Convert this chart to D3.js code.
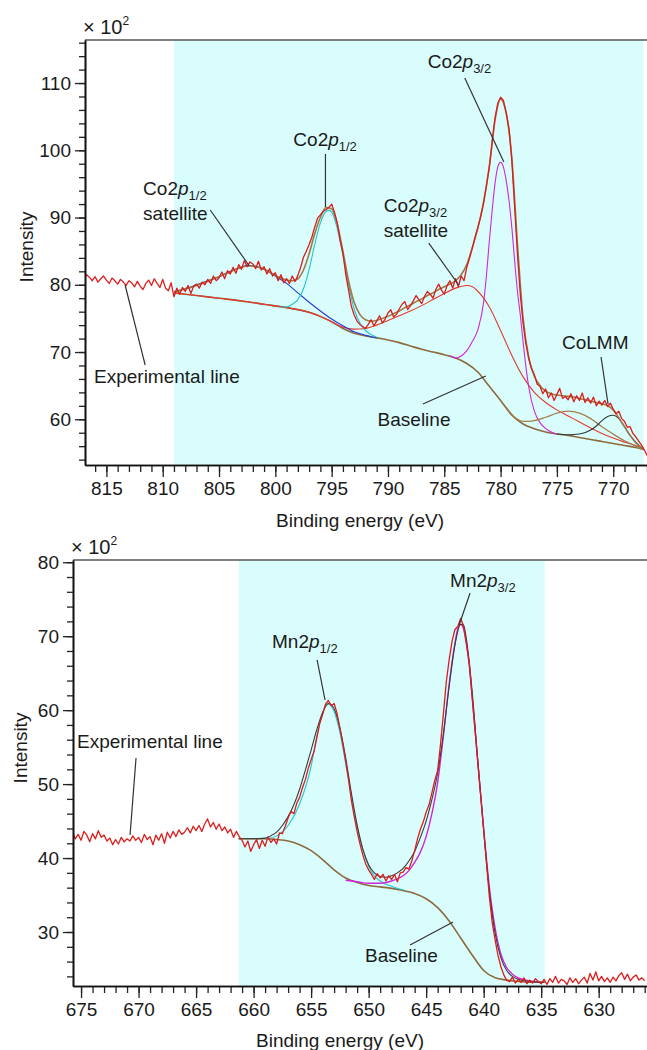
<!DOCTYPE html>
<html>
<head>
<meta charset="utf-8">
<script src="https://cdnjs.cloudflare.com/ajax/libs/d3/7.8.5/d3.min.js"></script>
<style>
body { margin: 0; background: #fff; }
svg { display: block; font-family: "Liberation Sans", Arial, sans-serif; }
</style>
</head>
<body>
<div id="chart"></div>
<script>
//////////// Co 2p panel data ////////////

// experimental spectrum, 817 -> 767 eV in 0.25 eV steps
var coExpStart = 817, coExpStep = 0.25;
var coExp = [
    80.9, 81.5, 81.1, 80.6,  81.2, 80.4, 80.9, 81.3,  80.7, 80.2, 81.0, 80.6,
    80.1, 80.8, 80.4, 79.9,  80.6, 80.3, 79.7, 80.5,  79.8, 79.3, 80.2, 80.7,
    79.9, 80.9, 80.2, 79.6,  80.8, 79.5, 79.1, 80.3,  78.2, 79.5, 78.6, 79.6,
    79.0, 79.9, 78.7, 79.8,  80.1, 79.5, 80.4, 80.0,  80.8, 80.2, 81.3, 80.6,
    81.0, 81.9, 80.9, 82.1,  81.6, 82.6, 81.7, 83.0,  82.3, 83.6, 82.7, 83.4,
    83.1, 82.4, 83.5, 82.2,  82.7, 81.6, 82.4, 81.3,  81.8, 80.6, 81.5, 80.3,
    80.9, 80.2, 81.3, 80.5,  81.4, 82.6, 84.1, 85.0,  86.0, 87.1, 88.6, 89.9,
    90.4, 90.9, 91.2, 91.5,  92.0, 90.8, 89.2, 86.6,  84.7, 81.6, 79.2, 76.8,
    75.5, 74.6, 74.1, 73.8,  73.5, 74.1, 74.8, 73.9,  74.6, 75.4, 74.3, 74.9,
    75.8, 76.3, 75.2, 75.6,  76.4, 77.1, 77.5, 76.3,  76.9, 77.6, 78.4, 77.8,
    77.2, 78.3, 79.0, 78.6,  78.0, 79.3, 80.1, 79.2,  78.6, 79.9, 80.6, 79.5,
    80.9, 79.7, 81.3, 80.6,  82.6, 84.0, 85.5, 87.2,  88.6, 90.2, 92.2, 94.8,
    97.5, 101.2, 104.8, 107.0,  107.9, 107.4, 105.6, 103.2,  98.5, 91.5, 84.5, 78.6,
    74.3, 71.2, 69.0, 67.5,  66.6, 65.2, 64.9, 63.8,  64.5, 63.2, 63.9, 62.8,
    63.7, 64.6, 63.1, 63.4,  62.9, 63.8, 62.6, 63.5,  62.8, 63.9, 62.5, 63.2,
    62.4, 63.3, 62.0, 62.7,  62.1, 62.8, 61.9, 62.4,  61.5, 60.8, 61.2, 60.1,
    59.7, 58.8, 58.9, 57.9,  57.4, 56.8, 56.2, 55.5,  54.6
];

var coEnvelope = [
    [809, 78.9], [808.5, 79.1], [808, 79.4], [807.5, 79.6], [807, 79.9], [806.5, 80.2],
    [806, 80.5], [805.5, 80.9], [805, 81.2], [804.5, 81.6], [804, 81.9], [803.5, 82.3],
    [803, 82.6], [802.5, 82.8], [802, 82.8], [801.5, 82.6], [801, 82.3], [800.5, 81.9],
    [800, 81.4], [799.5, 81.0], [799, 80.7], [798.5, 80.6], [798, 80.9], [797.5, 82.2],
    [797, 84.6], [796.5, 87.6], [796, 90.0], [795.5, 91.5], [795, 91.3], [794.5, 89.0],
    [794, 85.0], [793.5, 80.6], [793, 77.4], [792.5, 75.6], [792, 74.8], [791.5, 74.6],
    [791, 74.7], [790.5, 75.0], [790, 75.3], [789.5, 75.7], [789, 76.1], [788.5, 76.6],
    [788, 77.0], [787.5, 77.5], [787, 77.9], [786.5, 78.4], [786, 78.8], [785.5, 79.3],
    [785, 79.7], [784.5, 80.1], [784, 80.6], [783.5, 81.5], [783, 83.0], [782.5, 85.6],
    [782, 88.6], [781.5, 92.4], [781, 97.6], [780.5, 104.4], [780, 107.6], [779.5, 105.5],
    [779, 98.8], [778.5, 86.0], [778, 75.0], [777.5, 69.2], [777, 66.4], [776.5, 65.0],
    [776, 64.2], [775.5, 63.8], [775, 63.6], [774.5, 63.5], [774, 63.4], [773.5, 63.3],
    [773, 63.1], [772.5, 62.9], [772, 62.7], [771.5, 62.5], [771, 62.3], [770.5, 62.0],
    [770, 61.4], [769.5, 60.2], [769, 58.9], [768.5, 57.6], [768, 56.5], [767.3, 55.5]
];

var coBaseline = [
    [809, 78.8], [807, 78.4], [805, 78.0], [803, 77.6], [801, 77.1], [799, 76.6],
    [797, 75.9], [796, 75.3], [795, 74.5], [794, 73.5], [793, 72.8], [792, 72.4],
    [791, 72.1], [790, 71.8], [789, 71.4], [788, 70.9], [787, 70.4], [786, 70.0],
    [785, 69.6], [784, 69.1], [783, 68.3], [782, 67.0], [781, 64.9], [780, 62.8],
    [779, 60.6], [778, 59.3], [777, 58.6], [776, 58.1], [775, 57.8], [774, 57.6],
    [773, 57.3], [772, 57.0], [771, 56.7], [770, 56.4], [769, 56.1], [768, 55.8],
    [767.3, 55.5]
];

// Co2p1/2 satellite (blue)
var coSat12 = [
    [809, 79.0], [808, 79.4], [807, 80.0], [806, 80.6], [805, 81.2], [804, 82.0],
    [803, 82.6], [802.5, 82.9], [802, 82.8], [801, 82.3], [800, 81.3], [799, 80.2],
    [798, 78.8], [797, 77.4], [796, 76.1], [795, 74.9], [794, 73.9], [793, 73.0],
    [792, 72.5], [791, 72.1]
];

// Co2p1/2 (cyan)
var coP12 = [
    [799.5, 76.7], [799, 76.7], [798.5, 77.1], [798, 77.8], [797.5, 79.4], [797, 82.3],
    [796.5, 86.0], [796, 89.2], [795.5, 90.9], [795.25, 91.1], [795, 90.8], [794.5, 88.4],
    [794, 84.4], [793.5, 80.0], [793, 76.4], [792.5, 74.3], [792, 73.2], [791.5, 72.6],
    [791, 72.2]
];

// Co2p3/2 (magenta)
var coP32 = [
    [784.5, 69.5], [784, 69.1], [783.5, 69.4], [783, 70.2], [782.5, 71.6], [782, 73.4],
    [781.5, 77.5], [781.25, 81.5], [781, 86.5], [780.75, 91.0], [780.5, 95.0], [780.25, 97.5],
    [780, 98.2], [779.75, 97.5], [779.5, 95.5], [779.25, 92.5], [779, 88.5], [778.75, 83.5],
    [778.5, 79.0], [778.25, 75.5], [778, 71.5], [777.75, 67.8], [777.5, 64.8], [777, 61.2],
    [776.5, 59.5], [776, 58.6], [775.5, 58.1], [775, 57.8]
];

// Co2p3/2 satellite (red)
var coSat32 = [
    [809, 78.8], [807, 78.4], [805, 78.0], [803, 77.6], [801, 77.1], [799, 76.6],
    [797, 75.9], [796, 75.3], [795, 74.5], [794, 73.7], [793, 73.4], [792, 73.5],
    [791, 74.0], [790, 74.7], [789, 75.4], [788, 76.1], [787, 76.9], [786, 77.8],
    [785, 78.7], [784, 79.5], [783, 79.9], [782.5, 79.7], [782, 79.0], [781, 76.7],
    [780, 73.2], [779, 69.5], [778, 66.3], [777, 64.0], [776, 62.5], [775, 61.4],
    [774, 60.5], [773, 59.6], [772, 58.7], [771, 57.9], [770, 57.2], [769, 56.6],
    [768, 56.1], [767.3, 55.6]
];

// shoulder component (brown)
var coShoulder = [
    [779.5, 61.8], [779, 60.7], [778.5, 60.0], [778, 59.7], [777.5, 59.7], [777, 59.8],
    [776, 60.3], [775, 60.9], [774, 61.2], [773, 60.9], [772, 60.1], [771, 58.9],
    [770, 57.8], [769, 56.8], [768, 56.0], [767.3, 55.5]
];

// CoLMM (dark)
var coLMM = [
    [775, 57.8], [774, 57.7], [773, 57.8], [772, 58.4], [771.5, 59.0], [771, 59.8],
    [770.5, 60.4], [770, 60.6], [769.5, 60.1], [769, 58.9], [768.5, 57.6], [768, 56.6],
    [767.3, 55.5]
];

var coShade = [809, 767.3];
var coXTicks = [815, 810, 805, 800, 795, 790, 785, 780, 775, 770];
var coYTicks = [60, 70, 80, 90, 100, 110];

//////////// Mn 2p panel data ////////////

// experimental spectrum, 676 -> 626 eV in 0.25 eV steps
var mnExpStart = 676, mnExpStep = 0.25;
var mnExp = [
    42.8, 43.5, 42.6, 43.2,  42.4, 43.6, 43.1, 42.2,  43.3, 42.6, 43.7, 42.8,
    43.1, 42.3, 42.7, 41.8,  42.5, 41.9, 42.8, 42.2,  42.6, 42.3, 43.0, 42.4,
    42.8, 42.1, 43.2, 42.5,  42.9, 41.8, 43.1, 42.4,  43.3, 42.0, 43.5, 42.7,
    43.6, 42.9, 43.8, 43.2,  43.5, 44.1, 43.4, 44.3,  43.7, 44.4, 43.6, 44.6,
    45.3, 44.2, 44.8, 43.9,  44.6, 43.7, 44.2, 43.4,  43.9, 42.8, 43.6, 42.9,
    42.4, 41.5, 42.3, 40.9,  41.8, 42.5, 41.3, 42.4,  41.6, 42.9, 42.1, 42.6,
    41.9, 43.4, 43.3, 44.3,  45.4, 46.3, 46.0, 47.4,  48.2, 49.5, 50.6, 52.1,
    53.3, 54.4, 56.3, 58.2,  59.4, 60.8, 61.3, 60.6,  60.9, 59.6, 57.6, 55.5,
    53.2, 50.7, 47.8, 45.6,  43.6, 41.9, 40.4, 39.2,  38.4, 37.8, 37.1, 37.9,
    37.3, 37.8, 36.9, 37.6,  37.1, 37.8, 36.8, 38.0,  38.1, 38.7, 38.5, 39.6,
    41.0, 42.6, 43.9, 44.9,  46.2, 47.2, 48.8, 50.5,  51.8, 55.4, 59.5, 63.8,
    66.8, 69.3, 70.9, 71.3,  72.4, 71.4, 69.0, 66.4,  61.8, 57.4, 52.8, 48.3,
    43.8, 39.2, 34.7, 31.2,  28.9, 26.8, 25.3, 24.2,  23.5, 23.3, 23.9, 23.1,
    23.6, 23.2, 23.8, 23.0,  23.5, 23.1, 23.7, 23.3,  23.0, 23.6, 22.9, 23.7,
    23.2, 24.0, 23.1, 23.6,  23.4, 22.9, 23.8, 23.2,  23.7, 23.0, 23.5, 23.9,
    23.1, 24.4, 23.5, 24.6,  23.4, 24.0, 23.3, 23.8,  23.2, 23.9, 23.4, 24.1,
    24.5, 23.6, 24.3, 23.4,  23.9, 24.2, 23.5, 23.8,  23.4
];

var mnEnvelope = [
    [661.3, 42.6], [660, 42.6], [659, 42.7], [658.5, 43.0], [658, 43.5], [657.5, 44.4],
    [657, 45.6], [656.5, 47.2], [656, 49.3], [655.5, 51.9], [655, 54.6], [654.5, 57.4],
    [654, 59.7], [653.5, 60.9], [653, 60.2], [652.5, 57.6], [652, 53.6], [651.5, 48.8],
    [651, 44.5], [650.5, 41.2], [650, 39.1], [649.5, 38.0], [649, 37.5], [648.5, 37.4],
    [648, 37.6], [647.5, 38.0], [647, 38.6], [646.5, 39.6], [646, 40.9], [645.5, 42.8],
    [645, 45.0], [644.5, 47.9], [644, 51.5], [643.5, 56.8], [643, 63.2], [642.5, 68.8],
    [642, 71.6], [641.75, 71.5], [641.5, 69.6], [641, 62.5], [640.5, 53.0], [640, 43.8],
    [639.5, 35.5], [639, 29.8], [638.5, 26.5], [638, 24.8], [637.5, 24.0], [637, 23.6],
    [636, 23.3], [634.7, 23.2]
];

var mnBaseline = [
    [661.3, 42.6], [660, 42.6], [659, 42.6], [658, 42.5], [657, 42.3], [656, 41.8],
    [655, 41.0], [654, 39.8], [653, 38.4], [652, 37.3], [651, 36.7], [650, 36.3],
    [649, 36.1], [648, 35.9], [647, 35.6], [646, 35.2], [645, 34.5], [644, 33.3],
    [643, 31.5], [642, 29.2], [641, 26.9], [640, 24.8], [639, 23.8], [638, 23.5],
    [637, 23.3], [636, 23.2], [634.7, 23.2]
];

// Mn2p1/2 (cyan)
var mnP12 = [
    [659, 42.6], [658, 43.0], [657, 44.4], [656, 47.3], [655, 52.4], [654.5, 56.5],
    [654, 59.6], [653.75, 60.5], [653.5, 60.8], [653, 59.8], [652.5, 57.0], [652, 52.8],
    [651.5, 48.3], [651, 44.2], [650.5, 41.1], [650, 38.9], [649.5, 37.6], [649, 36.9],
    [648, 36.2], [647, 35.7]
];

// Mn2p3/2 (magenta)
var mnP32 = [
    [652, 37.0], [651, 36.8], [650, 36.6], [649, 36.6], [648, 36.9], [647, 37.6],
    [646.5, 38.3], [646, 39.4], [645.5, 40.8], [645, 42.9], [644.5, 46.0], [644, 50.2],
    [643.5, 56.5], [643, 63.5], [642.5, 69.0], [642.25, 71.0], [642, 71.6], [641.75, 71.0],
    [641.5, 69.0], [641.25, 66.0], [641, 61.8], [640.5, 52.8], [640, 44.0], [639.5, 36.0],
    [639, 30.5], [638.5, 27.0], [638, 25.2], [637.5, 24.3], [637, 23.8], [636, 23.4],
    [635, 23.2]
];

var mnShade = [661.3, 634.7];
var mnXTicks = [675, 670, 665, 660, 655, 650, 645, 640, 635, 630];
var mnYTicks = [30, 40, 50, 60, 70, 80];

//////////////////////////////////////////////

var width = 647, height = 1050;

var svg = d3.select("#chart")
    .append("svg")
    .attr("width", width)
    .attr("height", height);

var colors = {
    exp: "#dd1c1c",
    envelope: "#9c7a45",
    baseline: "#8d6a3c",
    blue: "#2a3ad8",
    cyan: "#22c6cf",
    magenta: "#d126d8",
    sat: "#e23a2e",
    shoulder: "#a2804c",
    dark: "#2f3a3a",
    shade: "#d9fdfd",
    text: "#1a1a1a",
    lead: "#333333"
};

function toPairs(values, start, step) {
    return values.map(function(v, i) {
        return [start - i * step, v];
    });
}

// Draw one panel: frame, shading, curves, axes
function panel(cfg) {
    var x = d3.scaleLinear().domain(cfg.xDomain).range([cfg.left, cfg.right]);
    var y = d3.scaleLinear().domain(cfg.yDomain).range([cfg.bottom, cfg.top]);
    var g = svg.append("g");

    g.append("clipPath")
        .attr("id", cfg.id + "-clip")
        .append("rect")
        .attr("x", cfg.left)
        .attr("y", cfg.top)
        .attr("width", cfg.right - cfg.left)
        .attr("height", cfg.bottom - cfg.top);

    g.append("rect")
        .attr("x", x(cfg.shade[0]))
        .attr("y", cfg.top)
        .attr("width", x(cfg.shade[1]) - x(cfg.shade[0]))
        .attr("height", cfg.bottom - cfg.top)
        .style("fill", colors.shade);

    var smooth = d3.line()
        .x(function(d) { return x(d[0]); })
        .y(function(d) { return y(d[1]); })
        .curve(d3.curveMonotoneX);

    var plain = d3.line()
        .x(function(d) { return x(d[0]); })
        .y(function(d) { return y(d[1]); });

    var curves = g.append("g").attr("clip-path", "url(#" + cfg.id + "-clip)");

    cfg.curves.forEach(function(c) {
        curves.append("path")
            .datum(c.data)
            .attr("d", smooth)
            .style("fill", "none")
            .style("stroke", c.color)
            .style("stroke-width", c.w || 1.1);
    });

    curves.append("path")
        .datum(cfg.exp)
        .attr("d", plain)
        .style("fill", "none")
        .style("stroke", colors.exp)
        .style("stroke-width", 1.3)
        .style("stroke-linejoin", "round");

    // frame top
    g.append("line")
        .attr("x1", cfg.left).attr("x2", cfg.right)
        .attr("y1", cfg.top).attr("y2", cfg.top)
        .style("stroke", "#555")
        .style("stroke-width", 1.5);

    // x axis
    var xMinor = d3.range(Math.ceil(cfg.xDomain[1]), Math.floor(cfg.xDomain[0]) + 1, 1);
    g.append("g")
        .attr("transform", "translate(0," + cfg.bottom + ")")
        .call(d3.axisBottom(x).tickValues(xMinor).tickSize(7).tickSizeOuter(0).tickFormat(""))
        .call(styleAxis);
    g.append("g")
        .attr("transform", "translate(0," + cfg.bottom + ")")
        .call(d3.axisBottom(x).tickValues(cfg.xTicks).tickSize(12).tickSizeOuter(0).tickPadding(5))
        .call(styleAxis);

    // y axis
    var yMinor = d3.range(Math.ceil(cfg.yDomain[0] / 2) * 2, cfg.yDomain[1], 2);
    g.append("g")
        .attr("transform", "translate(" + cfg.left + ",0)")
        .call(d3.axisLeft(y).tickValues(yMinor).tickSize(6).tickSizeOuter(0).tickFormat(""))
        .call(styleAxis);
    g.append("g")
        .attr("transform", "translate(" + cfg.left + ",0)")
        .call(d3.axisLeft(y).tickValues(cfg.yTicks).tickSize(10).tickSizeOuter(0).tickPadding(4))
        .call(styleAxis);

    // "x 10^2"
    var mult = g.append("text")
        .attr("x", cfg.left - 2)
        .attr("y", cfg.top - 6)
        .style("font-size", "20px")
        .style("fill", colors.text);
    mult.append("tspan").text("\u00d7 10");
    mult.append("tspan").attr("dy", -9).style("font-size", "12px").text("2");

    g.append("text")
        .attr("transform", "translate(" + cfg.yTitle[0] + "," + cfg.yTitle[1] + ") rotate(-90)")
        .attr("text-anchor", "middle")
        .style("font-size", "19px")
        .style("fill", colors.text)
        .text("Intensity");

    g.append("text")
        .attr("x", cfg.xTitle[0])
        .attr("y", cfg.xTitle[1])
        .attr("text-anchor", "middle")
        .style("font-size", "19px")
        .style("fill", colors.text)
        .text("Binding energy (eV)");

    // annotations
    cfg.notes.forEach(function(n) {
        g.append("line")
            .attr("x1", x(n.lead[0])).attr("y1", y(n.lead[1]))
            .attr("x2", x(n.lead[2])).attr("y2", y(n.lead[3]))
            .style("stroke", colors.lead)
            .style("stroke-width", 1.2);
        n.lines.forEach(function(ln, i) {
            var t = g.append("text")
                .attr("x", x(n.at[0]))
                .attr("y", y(n.at[1]) + i * 25)
                .style("font-size", "19px")
                .style("fill", colors.text);
            if (ln.sub) {
                t.append("tspan").text(ln.pre);
                t.append("tspan").style("font-style", "italic").text("p");
                t.append("tspan").attr("dy", 5).style("font-size", "13px").text(ln.sub);
            } else {
                t.text(ln.pre);
            }
        });
    });
}

function styleAxis(sel) {
    sel.select(".domain").style("stroke", "#111").style("stroke-width", 1.6);
    sel.selectAll(".tick line").style("stroke", "#222").style("stroke-width", 1.3);
    sel.selectAll(".tick text")
        .style("font-size", "19px")
        .style("font-family", "'Liberation Sans', Arial, sans-serif")
        .style("fill", colors.text);
}

// Co 2p
panel({
    id: "co",
    left: 85, right: 647, top: 40, bottom: 465,
    xDomain: [816.9, 767], yDomain: [53.2, 116.4],
    shade: coShade,
    xTicks: coXTicks, yTicks: coYTicks,
    exp: toPairs(coExp, coExpStart, coExpStep),
    curves: [
        { data: coBaseline, color: colors.baseline, w: 1.6 },
        { data: coSat32, color: colors.sat },
        { data: coSat12, color: colors.blue },
        { data: coP12, color: colors.cyan },
        { data: coP32, color: colors.magenta },
        { data: coShoulder, color: colors.shoulder, w: 1.3 },
        { data: coLMM, color: colors.dark },
        { data: coEnvelope, color: colors.envelope, w: 1.6 }
    ],
    yTitle: [33, 247],
    xTitle: [360, 527],
    notes: [
        { at: [811.74, 93.35], lines: [{ pre: "Co2", sub: "1/2" }, { pre: "satellite" }], lead: [805.78, 91.12, 802.31, 82.79] },
        { at: [798.4, 100.6], lines: [{ pre: "Co2", sub: "1/2" }], lead: [795.55, 99.45, 795.55, 91.56] },
        { at: [786.47, 112.23], lines: [{ pre: "Co2", sub: "3/2" }], lead: [783.18, 110.75, 779.71, 98.26] },
        { at: [790.38, 90.82], lines: [{ pre: "Co2", sub: "3/2" }, { pre: "satellite" }], lead: [786.38, 86.2, 783.72, 79.97] },
        { at: [774.55, 70.45], lines: [{ pre: "CoLMM" }], lead: [771.08, 69.26, 770.46, 62.27] },
        { at: [790.92, 59.0], lines: [{ pre: "Baseline" }], lead: [786.9, 62.27, 781.31, 66.43] },
        { at: [816.1, 65.39], lines: [{ pre: "Experimental line" }], lead: [811.56, 68.07, 813.34, 79.97] }
    ]
});

// Mn 2p
panel({
    id: "mn",
    left: 73, right: 647, top: 560, bottom: 986,
    xDomain: [675.7, 625.8], yDomain: [22.7, 80.3],
    shade: mnShade,
    xTicks: mnXTicks, yTicks: mnYTicks,
    exp: toPairs(mnExp, mnExpStart, mnExpStep),
    curves: [
        { data: mnBaseline, color: colors.baseline, w: 1.6 },
        { data: mnP12, color: colors.cyan },
        { data: mnP32, color: colors.magenta, w: 1.4 },
        { data: mnEnvelope, color: "#3a3a3a" }
    ],
    yTitle: [27, 748],
    xTitle: [340, 1047],
    notes: [
        { at: [658.4, 68.4], lines: [{ pre: "Mn2", sub: "1/2" }], lead: [654.48, 66.78, 653.79, 61.37] },
        { at: [642.92, 76.65], lines: [{ pre: "Mn2", sub: "3/2" }], lead: [641.18, 75.84, 642.13, 71.51] },
        { at: [675.35, 54.88], lines: [{ pre: "Experimental line" }], lead: [670.22, 53.53, 670.74, 43.12] },
        { at: [650.31, 25.95], lines: [{ pre: "Baseline" }], lead: [646.4, 28.24, 642.66, 31.35] }
    ]
});
</script>
</body>
</html>
